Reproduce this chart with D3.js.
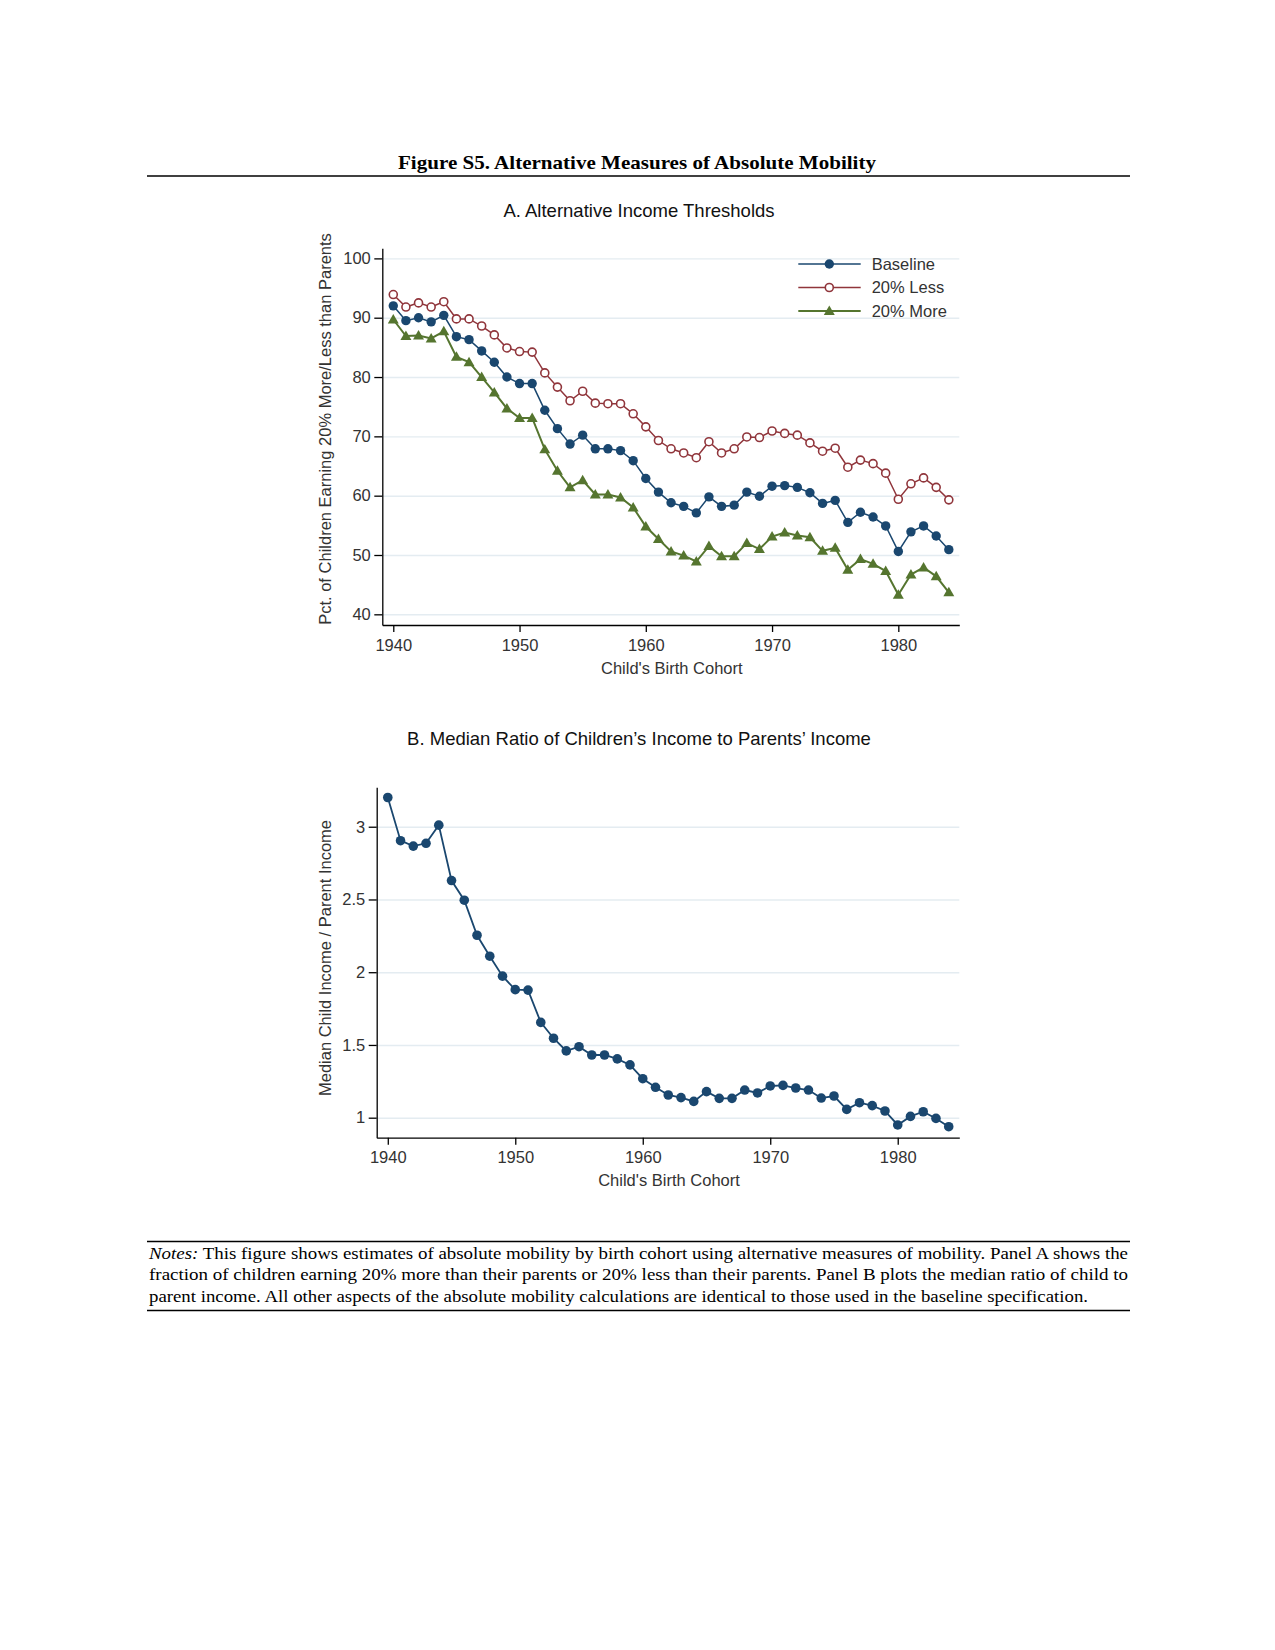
<!DOCTYPE html>
<html>
<head>
<meta charset="utf-8">
<script src="https://cdn.jsdelivr.net/npm/d3@7"></script>
<style>
  body { margin: 0; background: #fff; }
  svg { display: block; }
  .tick text { font-family: "Liberation Sans", Arial, sans-serif; font-size: 16.5px; fill: #333; }
  .axis path, .axis line { stroke: #000; stroke-width: 1.3; }
  .grid path { display: none; }
  .grid line { stroke: #e4ecf1; stroke-width: 1.4; }
</style>
</head>
<body>
<div id="chart"></div>
<script>
// Birth cohorts (x categories)
const cohorts = [1940, 1941, 1942, 1943, 1944, 1945, 1946, 1947, 1948, 1949,
  1950, 1951, 1952, 1953, 1954, 1955, 1956, 1957, 1958, 1959,
  1960, 1961, 1962, 1963, 1964, 1965, 1966, 1967, 1968, 1969,
  1970, 1971, 1972, 1973, 1974, 1975, 1976, 1977, 1978, 1979,
  1980, 1981, 1982, 1983, 1984];

// Panel A series (pct)
const baseline = [92.0, 89.5, 90.0, 89.3, 90.4, 86.8, 86.3, 84.4, 82.5, 80.0,
  78.9, 78.9, 74.4, 71.3, 68.7, 70.2, 67.9, 67.9, 67.6, 65.9,
  62.9, 60.6, 58.8, 58.2, 57.1, 59.8, 58.2, 58.4, 60.6, 59.9,
  61.6, 61.7, 61.4, 60.5, 58.7, 59.2, 55.5, 57.2, 56.4, 54.9,
  50.6, 53.9, 54.9, 53.2, 50.9];
const less20 = [93.9, 91.8, 92.5, 91.8, 92.7, 89.8, 89.8, 88.6, 87.1, 84.9,
  84.3, 84.2, 80.7, 78.3, 76.0, 77.6, 75.6, 75.5, 75.5, 73.8,
  71.6, 69.3, 67.9, 67.2, 66.4, 69.1, 67.2, 67.9, 69.9, 69.8,
  70.9, 70.5, 70.2, 68.9, 67.5, 68.0, 64.8, 66.0, 65.4, 63.8,
  59.4, 62.0, 63.0, 61.4, 59.3];
const more20 = [89.7, 86.9, 87.0, 86.5, 87.7, 83.4, 82.5, 80.0, 77.4, 74.7,
  73.1, 73.1, 67.8, 64.2, 61.4, 62.6, 60.2, 60.2, 59.7, 58.0,
  54.8, 52.7, 50.6, 49.9, 48.9, 51.5, 49.8, 49.8, 52.0, 51.0,
  53.1, 53.8, 53.3, 53.0, 50.7, 51.2, 47.5, 49.3, 48.5, 47.3,
  43.3, 46.7, 47.9, 46.4, 43.7];

// Panel B series (median child / parent income)
const medianRatio = [3.201, 2.904, 2.867, 2.886, 3.011, 2.630, 2.495, 2.254, 2.110, 1.973,
  1.880, 1.877, 1.655, 1.546, 1.459, 1.488, 1.431, 1.431, 1.404, 1.363,
  1.268, 1.209, 1.156, 1.138, 1.112, 1.179, 1.133, 1.133, 1.190, 1.170,
  1.218, 1.222, 1.204, 1.190, 1.135, 1.149, 1.057, 1.103, 1.083, 1.046,
  0.950, 1.009, 1.041, 0.995, 0.938];

// Tick labels
const xTicks = [1940, 1950, 1960, 1970, 1980];
const yTicksA = [40, 50, 60, 70, 80, 90, 100];
const yTicksB = [1, 1.5, 2, 2.5, 3];
const seriesNames = ['Baseline', '20% Less', '20% More'];

const sans = '"Liberation Sans", Arial, sans-serif';
const serif = '"Liberation Serif", "Times New Roman", serif';
const navy = '#1a476f', maroon = '#90353b', green = '#55752f';

const svg = d3.select('#chart')
    .append('svg')
    .attr('width', 1275)
    .attr('height', 1650);

svg.append('rect').attr('width', 1275).attr('height', 1650).attr('fill', '#fff');

// Figure title and rules
svg.append('text')
    .attr('x', 637).attr('y', 169)
    .attr('text-anchor', 'middle')
    .attr('font-family', serif).attr('font-weight', 'bold').attr('font-size', 19)
    .attr('textLength', 478).attr('lengthAdjust', 'spacingAndGlyphs')
    .text('Figure S5. Alternative Measures of Absolute Mobility');
svg.append('line').attr('x1', 147).attr('x2', 1130).attr('y1', 176).attr('y2', 176)
    .attr('stroke', '#000').attr('stroke-width', 1.4);

// Helper to draw one panel's frame: grid, axes, titles
const drawFrame = (x, y, yTicks, yFmt, opts) => {
    const [x0, x1] = x.range();
    const [yb, yt] = y.range();

    svg.append('g')
        .attr('class', 'grid')
        .attr('transform', `translate(${x0},0)`)
        .call(d3.axisLeft(y).tickValues(yTicks).tickSize(-(x1 - x0)).tickFormat(''));

    svg.append('g')
        .attr('class', 'axis')
        .attr('transform', `translate(${x0},0)`)
        .call(d3.axisLeft(y).tickValues(yTicks).tickSize(8).tickPadding(3.5).tickSizeOuter(0).tickFormat(yFmt));

    svg.append('g')
        .attr('class', 'axis')
        .attr('transform', `translate(0,${yb})`)
        .call(d3.axisBottom(x).tickValues(xTicks).tickSize(7).tickPadding(7).tickSizeOuter(0).tickFormat(d3.format('d')));

    // panel title
    svg.append('text')
        .attr('x', 639).attr('y', opts.titleY)
        .attr('text-anchor', 'middle')
        .attr('font-family', sans).attr('font-size', 18.5).attr('fill', '#111')
        .text(opts.title);

    // x axis title
    svg.append('text')
        .attr('x', (x0 + x1) / 2 + 1).attr('y', yb + 43)
        .attr('dy', '0.35em')
        .attr('text-anchor', 'middle')
        .attr('font-family', sans).attr('font-size', 16.5).attr('fill', '#333')
        .text("Child's Birth Cohort");

    // y axis title
    svg.append('text')
        .attr('transform', `translate(325,${opts.yTitleY}) rotate(-90)`)
        .attr('dy', '0.35em')
        .attr('text-anchor', 'middle')
        .attr('font-family', sans).attr('font-size', 16.5).attr('fill', '#333')
        .text(opts.yTitle);
};

// Panel A scales
const xA = d3.scaleLinear().domain([1939.13, 1984.83]).range([382.3, 959.3]);
const yA = d3.scaleLinear().domain([38.2, 101.7]).range([625, 248.3]);

drawFrame(xA, yA, yTicksA, d3.format('d'), {
    title: 'A. Alternative Income Thresholds',
    titleY: 216.5,
    yTitle: 'Pct. of Children Earning 20% More/Less than Parents',
    yTitleY: 429
});

const lineA = d3.line().x((d, i) => xA(cohorts[i])).y(d => yA(d));

const seriesA = [
    { name: seriesNames[0], values: baseline, color: navy, width: 1.5, marker: 'dot' },
    { name: seriesNames[1], values: less20, color: maroon, width: 1.5, marker: 'ring' },
    { name: seriesNames[2], values: more20, color: green, width: 2, marker: 'tri' }
];

const triangle = d3.symbol().type(d3.symbolTriangle).size(52);

// Draw a marker of given type at (cx, cy)
const drawMarker = (g, s, cx, cy) => {
    if (s.marker === 'dot') {
        g.append('circle').attr('cx', cx).attr('cy', cy).attr('r', 4.7).attr('fill', s.color);
    } else if (s.marker === 'ring') {
        g.append('circle').attr('cx', cx).attr('cy', cy).attr('r', 4)
            .attr('fill', '#fff').attr('stroke', s.color).attr('stroke-width', 1.6);
    } else {
        g.append('path').attr('d', triangle()).attr('transform', `translate(${cx},${cy + 0.8})`)
            .attr('fill', s.color);
    }
};

// Draw in reverse so baseline sits on top
seriesA.slice().reverse().forEach(s => {
    const g = svg.append('g');
    g.append('path')
        .attr('d', lineA(s.values))
        .attr('fill', 'none')
        .attr('stroke', s.color)
        .attr('stroke-width', s.width);
    s.values.forEach((v, i) => drawMarker(g, s, xA(cohorts[i]), yA(v)));
});

// Legend
const legend = svg.append('g');
seriesA.forEach((s, i) => {
    const ly = 264 + i * 23.5;
    legend.append('line')
        .attr('x1', 798.3).attr('x2', 860.7).attr('y1', ly).attr('y2', ly)
        .attr('stroke', s.color).attr('stroke-width', s.width);
    drawMarker(legend, s, 829.3, ly);
    legend.append('text')
        .attr('x', 871.7).attr('y', ly).attr('dy', '0.36em')
        .attr('font-family', sans).attr('font-size', 16.5).attr('fill', '#333')
        .text(s.name);
});

// Panel B scales
const xB = d3.scaleLinear().domain([1939.13, 1984.83]).range([376.7, 959.3]);
const yB = d3.scaleLinear().domain([0.8625, 3.271]).range([1137.7, 787.3]);

drawFrame(xB, yB, yTicksB, d3.format(''), {
    title: 'B. Median Ratio of Children\u2019s Income to Parents\u2019 Income',
    titleY: 744.5,
    yTitle: 'Median Child Income / Parent Income',
    yTitleY: 958
});

const lineB = d3.line().x((d, i) => xB(cohorts[i])).y(d => yB(d));
const gB = svg.append('g');
gB.append('path')
    .attr('d', lineB(medianRatio))
    .attr('fill', 'none')
    .attr('stroke', navy)
    .attr('stroke-width', 1.8);
gB.selectAll('circle')
    .data(medianRatio)
    .enter()
    .append('circle')
    .attr('cx', (d, i) => xB(cohorts[i]))
    .attr('cy', d => yB(d))
    .attr('r', 4.8)
    .attr('fill', navy);

// Notes block
svg.append('line').attr('x1', 147).attr('x2', 1130).attr('y1', 1241.5).attr('y2', 1241.5)
    .attr('stroke', '#000').attr('stroke-width', 1.4);
svg.append('line').attr('x1', 147).attr('x2', 1130).attr('y1', 1310.5).attr('y2', 1310.5)
    .attr('stroke', '#000').attr('stroke-width', 1.4);

const noteLines = [
    { italic: 'Notes:', text: ' This figure shows estimates of absolute mobility by birth cohort using alternative measures of mobility. Panel A shows the', len: 979 },
    { italic: '', text: 'fraction of children earning 20% more than their parents or 20% less than their parents. Panel B plots the median ratio of child to', len: 979 },
    { italic: '', text: 'parent income. All other aspects of the absolute mobility calculations are identical to those used in the baseline specification.', len: 939 }
];
noteLines.forEach((n, i) => {
    const t = svg.append('text')
        .attr('x', 149).attr('y', 1258.5 + i * 21.8)
        .attr('font-family', serif).attr('font-size', 17.5).attr('fill', '#000')
        .attr('textLength', n.len).attr('lengthAdjust', 'spacingAndGlyphs');
    if (n.italic) t.append('tspan').attr('font-style', 'italic').text(n.italic);
    t.append('tspan').text(n.text);
});
</script>
</body>
</html>
